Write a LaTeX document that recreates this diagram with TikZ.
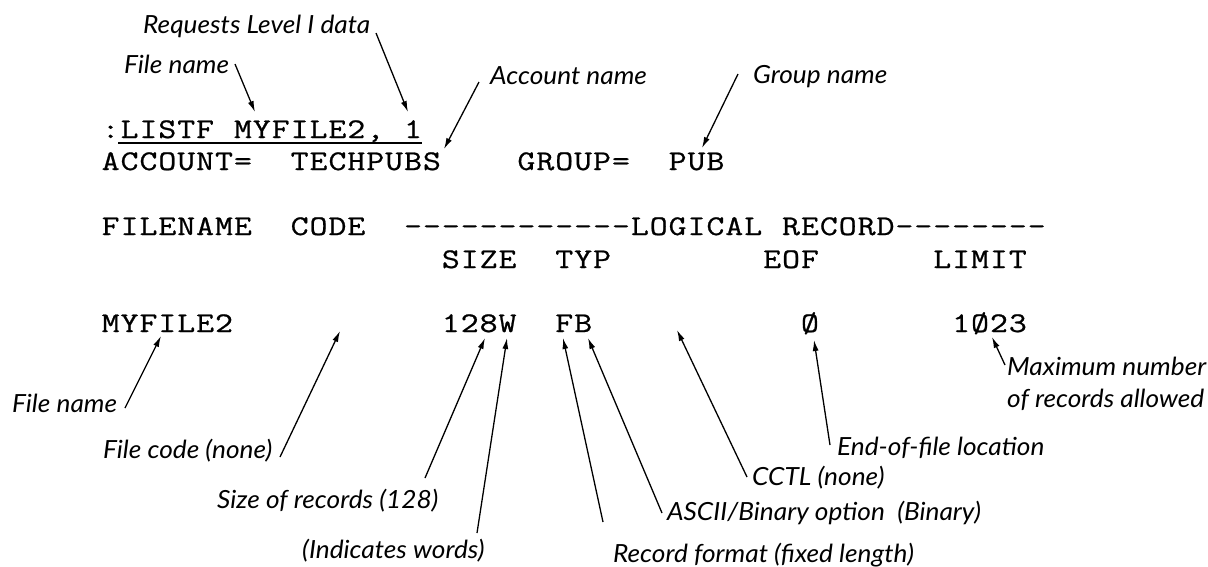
\documentclass[tikz,border=0pt]{standalone}
\usepackage{fontspec}
\usetikzlibrary{arrows.meta}
\newfontfamily\listfont{Latin Modern Mono}[FakeBold=0.8,FakeStretch=1.22]
\newfontfamily\notefont{Lato}[FakeStretch=1.05]
\makeatletter
% fixed character pitch of the terminal listing
\newlength\cellw \setlength\cellw{18.9pt}
\newcommand\cells[1]{\@tfor\cell@c:=#1\do{\makebox[\cellw][c]{\cell@c}}}
\makeatother
\tikzset{
  mono/.style={anchor=base west, inner sep=0pt, font=\listfont\fontsize{28.5}{28.5}\selectfont},
  note/.style={anchor=base west, inner sep=0pt, font=\notefont\itshape\fontsize{25}{32}\selectfont},
  pointer/.style={line width=1.3pt, -{Latex[length=11pt,width=6pt]}},
}
\begin{document}
\begin{tikzpicture}[x=1pt,y=-1pt]
\useasboundingbox (0,0) rectangle (1208,566);

% ---- listing (column n starts at 101 + 18.9 n) ----
\node[mono] (cmd) at (101,138) {\cells{:LISTF~MYFILE2,~1}};
\draw[line width=1.4pt] (118,143) -- (422,143);

\node[mono] (acctkey) at ({101+18.9*0},170)  {\cells{ACCOUNT=}};
\node[mono] (acctval) at ({101+18.9*10},170) {\cells{TECHPUBS}};
\node[mono] (grpkey)  at ({101+18.9*22},170) {\cells{GROUP=}};
\node[mono] (grpval)  at ({101+18.9*30},170) {\cells{PUB}};

\node[mono] (fnhead)  at ({101+18.9*0},235)  {\cells{FILENAME}};
\node[mono] (cdhead)  at ({101+18.9*10},235) {\cells{CODE}};
\node[mono] (lrhead)  at ({101+18.9*16},235) {\cells{------------LOGICAL~RECORD--------}};

\node[mono] (szhead)  at ({101+18.9*18},268) {\cells{SIZE}};
\node[mono] (tyhead)  at ({101+18.9*24},268) {\cells{TYP}};
\node[mono] (eohead)  at ({101+18.9*35},268) {\cells{EOF}};
\node[mono] (lmhead)  at ({101+18.9*44},268) {\cells{LIMIT}};

\node[mono] (fnval)   at ({101+18.9*0},332)  {\cells{MYFILE2}};
\node[mono] (szval)   at ({101+18.9*18},332) {\cells{128W}};
\node[mono] (tyval)   at ({101+18.9*24},332) {\cells{FB}};
\node[mono] (eoval)   at ({101+18.9*37},332) {\cells{Ø}};
\node[mono] (lmval)   at ({101+18.9*45},332) {\cells{1Ø23}};

% ---- annotations ----
\node[note] (nreq)   at (143,33)  {Requests Level I data};
\node[note] (nfile)  at (124,73)  {File name};
\node[note] (nacct)  at (490,84)  {Account name};
\node[note] (ngrp)   at (753,83)  {Group name};
\node[note] (nfile2) at (12,412)  {File name};
\node[note] (ncode)  at (103,458) {File code (none)};
\node[note] (nsize)  at (217,508) {Size of records (128)};
\node[note] (nword)  at (302,558) {(Indicates words)};
\node[note] (nfmt)   at (613,562) {Record format (fixed length)};
\node[note] (nasc)   at (667,520) {ASCII/Binary option\ \ (Binary)};
\node[note] (ncctl)  at (752,485) {CCTL (none)};
\node[note] (neof)   at (837,455) {End-of-file location};
% two-line note: base anchor sits on the last line
\node[note, align=left] (nmax) at (1007,407) {Maximum number\\of records allowed};

% arrow ends
\coordinate (treq)   at (376,33);   \coordinate (hreq)   at (408,112);
\coordinate (tfile)  at (235,64);   \coordinate (hfile)  at (255,112);
\coordinate (tacct)  at (479,82);   \coordinate (hacct)  at (444,149);
\coordinate (tgrp)   at (738,74);   \coordinate (hgrp)   at (702,148);
\coordinate (tfile2) at (125,408);  \coordinate (hfile2) at (161,336);
\coordinate (tcode)  at (280,457);  \coordinate (hcode)  at (340,331);
\coordinate (tsize)  at (425,478);  \coordinate (hsize)  at (485,338);
\coordinate (tword)  at (477,533);  \coordinate (hword)  at (507,338);
\coordinate (tfmt)   at (603,522);  \coordinate (hfmt)   at (563,338);
\coordinate (tasc)   at (662,513);  \coordinate (hasc)   at (588,338);
\coordinate (tcctl)  at (747,477);  \coordinate (hcctl)  at (677,330);
\coordinate (teof)   at (830,445);  \coordinate (heof)   at (814,340);
\coordinate (tmax)   at (1005,365); \coordinate (hmax)   at (992,337);

\foreach \n in {req,file,acct,grp,file2,code,size,word,fmt,asc,cctl,eof,max}
  \draw[pointer] (t\n) -- (h\n);
\end{tikzpicture}
\end{document}
